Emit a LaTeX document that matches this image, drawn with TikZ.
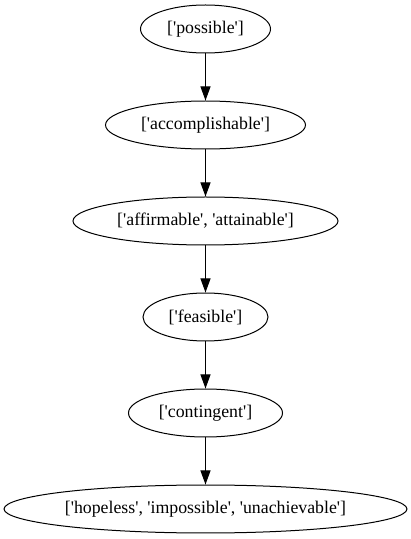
\documentclass[tikz,border=0pt]{standalone}
\usepackage{fontspec}
\setmainfont{Liberation Serif}[Ligatures=TeXOff]
\usetikzlibrary{shapes.geometric,arrows.meta}
\newcommand{\lbl}[1]{\makebox[0pt]{#1}}
\tikzset{
  word/.style={draw, ellipse, line width=1pt, inner sep=0pt, minimum height=48pt,
    font=\fontsize{17.8}{20}\selectfont},
  link/.style={-{Triangle[length=14pt,width=10pt]}, line width=1pt}
}
\begin{document}
\begin{tikzpicture}[x=1pt,y=1pt]
    \useasboundingbox (0,0) rectangle (411,539);

    % The words, top to bottom
    \node[word, minimum width=130pt] (possible) at (205.5,510) {\lbl{['possible']}};
    \node[word, minimum width=200pt] (accomp) at (205.5,414) {\lbl{['accomplishable']}};
    \node[word, minimum width=265pt] (affirm) at (205.5,318) {\lbl{['affirmable', 'attainable']}};
    \node[word, minimum width=125pt] (feasible) at (205.5,222) {\lbl{['feasible']}};
    \node[word, minimum width=154pt] (conting) at (205.5,126) {\lbl{['contingent']}};
    \node[word, minimum width=403pt] (hopeless) at (205.5,30) {\lbl{['hopeless', 'impossible', 'unachievable']}};

    % Links between them
    \draw[link] (possible) -- (accomp);
    \draw[link] (accomp) -- (affirm);
    \draw[link] (affirm) -- (feasible);
    \draw[link] (feasible) -- (conting);
    \draw[link] (conting) -- (hopeless);
\end{tikzpicture}
\end{document}
